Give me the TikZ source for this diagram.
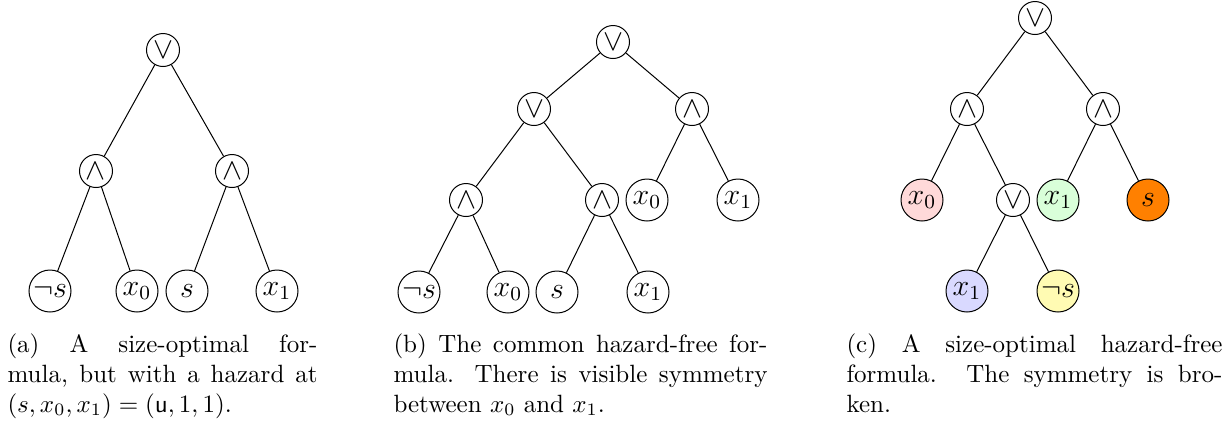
\documentclass[tikz,border=0pt]{standalone}
\usepackage{amsmath}
\begin{document}
\begin{tikzpicture}[x=0.4pt,y=-0.4pt,
  op/.style={circle,draw,minimum size=13.2pt,inner sep=0pt,font=\large},
  leaf/.style={circle,draw,minimum size=16.8pt,inner sep=0pt,font=\large},
  captext/.style={anchor=base west,inner sep=0pt,align=justify,font=\normalsize}]
\useasboundingbox (0,0) rectangle (1229,423);
% ---------- (a)
\node[op] (aR) at (163,50) {$\lor$};
\node[op] (aA1) at (96,171) {$\land$};
\node[op] (aA2) at (232,171) {$\land$};
\node[leaf] (aNs) at (50,291) {$\neg s$};
\node[leaf] (aX0) at (137,291) {$x_0$};
\node[leaf] (aS) at (187,291) {$s$};
\node[leaf] (aX1) at (277,291) {$x_1$};
\draw (aR) -- (aA1); \draw (aR) -- (aA2);
\draw (aA1) -- (aNs); \draw (aA1) -- (aX0);
\draw (aA2) -- (aS); \draw (aA2) -- (aX1);
\node[captext,text width=124pt] (capA) at (7,352) {(a) A size-optimal for-\linebreak mula, but with a hazard at\linebreak $(s,x_0,x_1)=(\mathsf{u},1,1)$.};
% ---------- (b)
\node[op] (bR) at (613,42) {$\lor$};
\node[op] (bO) at (534,109) {$\lor$};
\node[op] (bA) at (692,109) {$\land$};
\node[op] (bA1) at (466,200) {$\land$};
\node[op] (bA2) at (602,200) {$\land$};
\node[leaf] (bX0r) at (647,200) {$x_0$};
\node[leaf] (bX1r) at (738,200) {$x_1$};
\node[leaf] (bNs) at (419,292) {$\neg s$};
\node[leaf] (bX0) at (508,292) {$x_0$};
\node[leaf] (bS) at (557,292) {$s$};
\node[leaf] (bX1) at (648,292) {$x_1$};
\draw (bR) -- (bO); \draw (bR) -- (bA);
\draw (bO) -- (bA1); \draw (bO) -- (bA2);
\draw (bA) -- (bX0r); \draw (bA) -- (bX1r);
\draw (bA1) -- (bNs); \draw (bA1) -- (bX0);
\draw (bA2) -- (bS); \draw (bA2) -- (bX1);
\node[captext,text width=149.6pt] (capB) at (393,352) {(b) The common hazard-free for-\linebreak mula. There is visible symmetry\linebreak between $x_0$ and $x_1$.};
% ---------- (c)
\node[op] (cR) at (1035,18) {$\lor$};
\node[op] (cA1) at (967,109) {$\land$};
\node[op] (cA2) at (1103,109) {$\land$};
\node[leaf,fill=red!15] (cX0) at (922,200) {$x_0$};
\node[op] (cO) at (1013,200) {$\lor$};
\node[leaf,fill=green!15] (cX1g) at (1058,200) {$x_1$};
\node[leaf,fill=orange] (cS) at (1148,200) {$s$};
\node[leaf,fill=blue!15] (cX1b) at (967,291) {$x_1$};
\node[leaf,fill=yellow!30] (cNs) at (1058,291) {$\neg s$};
\draw (cR) -- (cA1); \draw (cR) -- (cA2);
\draw (cA1) -- (cX0); \draw (cA1) -- (cO);
\draw (cA2) -- (cX1g); \draw (cA2) -- (cS);
\draw (cO) -- (cX1b); \draw (cO) -- (cNs);
\node[captext,text width=150.4pt] (capC) at (846,352) {(c) A size-optimal hazard-free\linebreak formula. The symmetry is bro-\linebreak ken.};
\end{tikzpicture}
\end{document}
